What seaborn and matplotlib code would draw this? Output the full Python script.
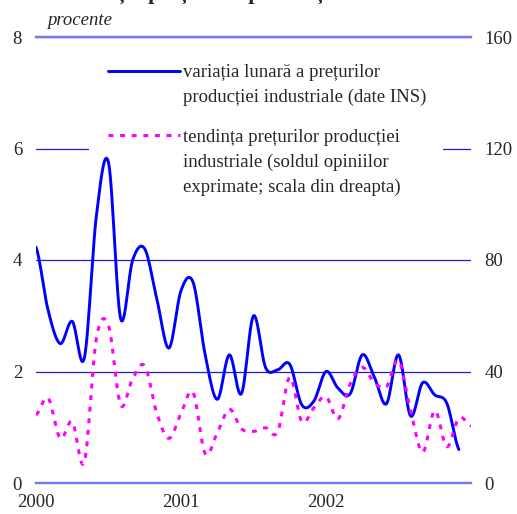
import numpy as np
import pandas as pd
import matplotlib
matplotlib.use("Agg")
import matplotlib.pyplot as plt
from matplotlib.lines import Line2D
import seaborn as sns

# monthly values, Jan 2000 - Dec 2002 (left scale, %)
variatie_lunara = [4.23, 3.1, 2.5, 2.9, 2.24, 4.8, 5.75, 2.95, 4.0, 4.2, 3.3, 2.42,
                   3.45, 3.6, 2.3, 1.5, 2.3, 1.6, 3.0, 2.07, 2.03, 2.13, 1.4, 1.47,
                   2.0, 1.7, 1.6, 2.3, 1.9, 1.42, 2.3, 1.2, 1.8, 1.58, 1.43, 0.6]
# balance of opinions (right scale), Jan 2000 - Jan 2003
tendinta = [24.4, 30.5, 16, 22, 7.5, 52, 56.5, 28, 37.5, 42, 25, 16,
            25, 32.5, 10.5, 18, 26.5, 19.5, 18.5, 19.8, 18.3, 38, 22, 27,
            31, 23, 35.5, 41.5, 36, 34.5, 44, 26, 11, 26, 13, 23.3, 20.5]
ani = ["2000", "2001", "2002", ""]
ticks_stanga = [0, 2, 4, 6, 8]
ticks_dreapta = [0, 40, 80, 120, 160]

label_1 = ["variația lunară a prețurilor", "producției industriale (date INS)"]
label_2 = ["tendința prețurilor producției", "industriale (soldul opiniilor",
           "exprimate; scala din dreapta)" + " " * 5]


def smooth(values, n=12):
    # catmull-rom spline, like the "smoothed line" option of a spreadsheet chart
    y = np.asarray(values, dtype=float)
    p = np.concatenate([[y[0]], y, [y[-1]]])
    xs, ys = [], []
    for i in range(len(y) - 1):
        p0, p1, p2, p3 = p[i], p[i + 1], p[i + 2], p[i + 3]
        t = np.linspace(0, 1, n, endpoint=False)
        seg = 0.5 * ((2 * p1) + (-p0 + p2) * t + (2 * p0 - 5 * p1 + 4 * p2 - p3) * t ** 2
                     + (-p0 + 3 * p1 - 3 * p2 + p3) * t ** 3)
        xs.append(i + t)
        ys.append(seg)
    xs.append([len(y) - 1])
    ys.append([y[-1]])
    return pd.DataFrame({"luna": np.concatenate(xs), "val": np.concatenate(ys)})


sns.set_style("white")
plt.rcParams["font.family"] = ["Liberation Serif", "DejaVu Serif"]
plt.rcParams["font.size"] = 13.5

blue = "#0000ff"
magenta = "#ff00ff"
axis_col = "#7878ee"
grid_col = "#1c1cc8"

fig = plt.figure(figsize=(5.17, 5.14), dpi=100)
ax = fig.add_axes([36 / 517, 31 / 514, 435 / 517, 446 / 514])
ax2 = ax.twinx()

df1 = smooth(variatie_lunara)
df2 = smooth(tendinta)
sns.lineplot(data=df1, x="luna", y="val", ax=ax, color=blue, lw=2.1,
             sort=False, estimator=None, zorder=3)
sns.lineplot(data=df2, x="luna", y="val", ax=ax2, color=magenta, lw=2.2,
             sort=False, estimator=None, dashes=False)
ax2.lines[0].set_dashes((1.6, 2.2))

ax.set_xlim(0, 36)
ax.set_ylim(0, 8)
ax2.set_ylim(0, 160)
ax.set_xticks([0, 12, 24, 36])
ax.set_xticklabels(ani)
ax.set_yticks(ticks_stanga)
ax2.set_yticks(ticks_dreapta)
ax.set_xlabel("")
ax.set_ylabel("")
ax2.set_ylabel("")

for a in (ax, ax2):
    for s in ("left", "right"):
        a.spines[s].set_visible(False)
    for s in ("top", "bottom"):
        a.spines[s].set_color(axis_col)
        a.spines[s].set_linewidth(1.6)

ax.set_axisbelow(True)
ax.yaxis.grid(True, color=grid_col, lw=0.9)
ax.tick_params(axis="y", length=0, pad=10)
ax2.tick_params(axis="y", length=0, pad=9.5)
ax.tick_params(axis="x", direction="in", length=5, width=1.6, color=axis_col, pad=8)

ax.text(11 / 435, 1.027, "procente", transform=ax.transAxes, style="italic",
        ha="left", va="baseline")
# chart title, cut off by the top edge as in the source image
fig.text(0.5, 1 + 1 / 514, "Evoluția prețurilor producției industriale",
         ha="center", va="baseline", fontsize=16, fontweight="bold")

blank = Line2D([], [], color="none")
h1 = [Line2D([], [], color=blue, lw=2.1), blank]
h2 = [Line2D([], [], color=magenta, lw=2.2, dashes=(1.6, 2.2)), blank, blank]
common = dict(loc="center left", frameon=True, facecolor="white", edgecolor="none",
              framealpha=1, fancybox=False, borderpad=1.0, handlelength=3.84,
              handletextpad=0.16, labelspacing=0.41, fontsize=13.5, borderaxespad=0)
leg1 = ax.legend(h1, label_1, bbox_to_anchor=(53 / 435, (483 - 85) / 446), **common)
leg1.set_zorder(1.5)
ax.add_artist(leg1)
leg2 = ax.legend(h2, label_2, bbox_to_anchor=(53 / 435, (483 - 162) / 446), **common)
leg2.set_zorder(1.5)

fig.savefig("out.png", dpi=100)
